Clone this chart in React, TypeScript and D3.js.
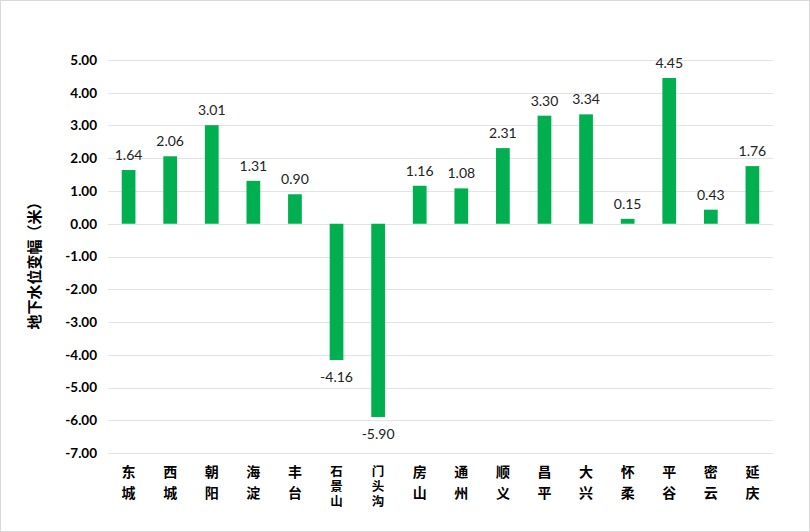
import React from "react";
import * as d3 from "d3";

const districts = ["东城", "西城", "朝阳", "海淀", "丰台", "石景山", "门头沟", "房山", "通州", "顺义", "昌平", "大兴", "怀柔", "平谷", "密云", "延庆"];
const levelChange = [1.64, 2.06, 3.01, 1.31, 0.9, -4.16, -5.9, 1.16, 1.08, 2.31, 3.3, 3.34, 0.15, 4.45, 0.43, 1.76];
const yTicks = [5, 4, 3, 2, 1, 0, -1, -2, -3, -4, -5, -6, -7];
const yTitle = "地下水位变幅（米）";

const W = 810;
const H = 532;
const plot = { left: 108, right: 773, top: 60, bottom: 453 };

// plain hyphen for negatives, two decimals
const fmt = d3.formatLocale({ decimal: ".", thousands: ",", grouping: [3], currency: ["", ""], minus: "-" }).format(".2f");

export default function App() {
  const x = d3
    .scaleBand<string>()
    .domain(districts)
    .range([plot.left, plot.right])
    .paddingInner(0.67)
    .paddingOuter(0.33);
  const y = d3.scaleLinear().domain([-7, 5]).range([plot.bottom, plot.top]);
  const font = "Lato, 'Open Sans', sans-serif";
  const cjk = "'Noto Sans CJK SC', sans-serif";

  return (
    <svg
      width={W}
      height={H}
      style={{ position: "absolute", left: 0, top: 0, background: "#fff" }}
    >
      <rect x={0.5} y={0.5} width={W - 1} height={H - 1} fill="#fff" stroke="#d9d9d9" />
      {yTicks.map((t) => (
        <g key={t}>
          <line
            x1={plot.left}
            x2={plot.right}
            y1={Math.round(y(t)) + 0.5}
            y2={Math.round(y(t)) + 0.5}
            stroke="#e3e3e3"
          />
          <text
            x={97}
            y={y(t)}
            dy="0.36em"
            textAnchor="end"
            fontFamily={font}
            fontWeight={700}
            fontSize={13.5}
            fill="#000"
          >
            {fmt(t)}
          </text>
        </g>
      ))}
      {districts.map((d, i) => {
        const v = levelChange[i];
        const bx = x(d)!;
        const y0 = y(0);
        const y1 = y(v);
        const cx = bx + x.bandwidth() / 2;
        const long = Array.from(d).length > 2;
        const size = long ? 12.5 : 14;
        const step = long ? 15 : 21;
        return (
          <g key={d}>
            <rect
              x={bx}
              y={Math.min(y0, y1)}
              width={x.bandwidth()}
              height={Math.abs(y1 - y0)}
              fill="#00b050"
            />
            <text
              x={cx}
              y={v >= 0 ? y1 - 10 : y1 + 22}
              textAnchor="middle"
              fontFamily={font}
              fontSize={14}
              fill="#222"
            >
              {fmt(v)}
            </text>
            {/* category name stacked top-to-bottom */}
            <text
              x={cx}
              y={465}
              textAnchor="start"
              style={{ writingMode: "vertical-rl", letterSpacing: `${step - size}px` }}
              fontFamily={cjk}
              fontWeight={700}
              fontSize={size}
              fill="#000"
            >
              {d}
            </text>
          </g>
        );
      })}
      <text
        transform={`translate(35, 262) rotate(-90)`}
        textAnchor="middle"
        dy="0.35em"
        fontFamily={cjk}
        fontWeight={700}
        fontSize={15}
        fill="#000"
      >
        {yTitle}
      </text>
    </svg>
  );
}
